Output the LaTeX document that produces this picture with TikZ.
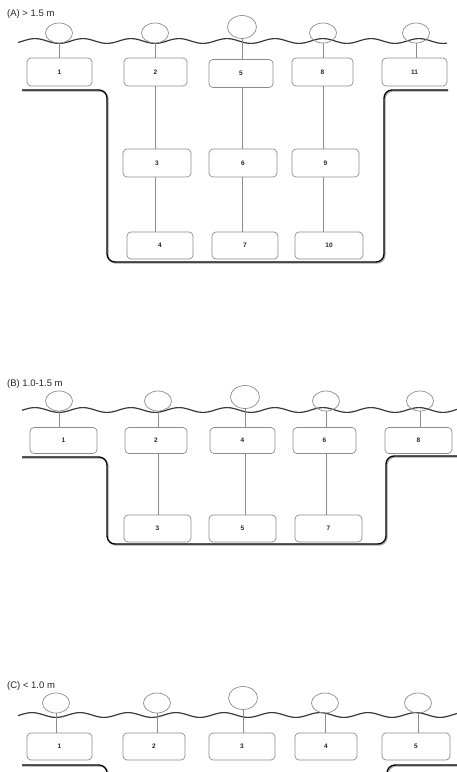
\documentclass[tikz,border=0pt]{standalone}
\usepackage{fontspec}
\setmainfont{Liberation Sans}
\usetikzlibrary{shapes.geometric}
\definecolor{boxgray}{HTML}{8C8C8C}
\definecolor{wavegray}{HTML}{3A3A3A}
\begin{document}
\begin{tikzpicture}[x=1pt,y=-1pt,
 bx/.style={draw=boxgray, line width=0.7pt, rounded corners=4pt, inner sep=0pt, font=\bfseries\fontsize{6.5}{7}\selectfont, text=black!85},
 fl/.style={draw=boxgray, ellipse, line width=0.7pt, minimum width=27pt, minimum height=20pt, inner sep=0pt},
 flbig/.style={fl, minimum width=29pt, minimum height=23pt},
 ln/.style={draw=boxgray, line width=0.7pt},
 wave/.style={draw=wavegray, line width=1.2pt},
 bank/.style={line width=1.3pt, rounded corners=8pt},
 shadow/.style={line width=1.3pt, rounded corners=8pt, draw=black!35},
 lbl/.style={anchor=west, font=\fontsize{9.5}{10}\selectfont, inner sep=0pt, text=black!85}]
\fill[white] (0,0) rectangle (457,772);
\useasboundingbox (0,0) rectangle (457,772);
\begin{scope}
\clip (0,0) rectangle (457,772);

% ================= Panel A =================
\node[lbl] (la) at (7,14) {(A) > 1.5 m};
\draw[wave] plot[domain=18:447, samples=220, smooth] (\x, {41+2.4*sin(7.5*(\x-47))});
\draw[shadow] (22,91) -- (108,91) -- (108,263) -- (385,263) -- (385,91) -- (448,91);
\draw[bank] (22,90) -- (107,90) -- (107,262) -- (384,262) -- (384,90) -- (448,90);

\node[fl] (fa1) at (59,33) {};
\node[fl] (fa2) at (155,33) {};
\node[flbig] (fa5) at (242,27) {};
\node[fl] (fa8) at (323,33) {};
\node[fl] (fa11) at (416,33) {};

\node[bx, minimum width=65pt, minimum height=28pt] (a1) at (59.5,72) {1};
\node[bx, minimum width=63pt, minimum height=28pt] (a2) at (155.5,72) {2};
\node[bx, minimum width=64pt, minimum height=28pt] (a5) at (241,73.5) {5};
\node[bx, minimum width=61pt, minimum height=28pt] (a8) at (322.5,72) {8};
\node[bx, minimum width=65pt, minimum height=28pt] (a11) at (414.5,72) {11};

\node[bx, minimum width=68pt, minimum height=28pt] (a3) at (157,163) {3};
\node[bx, minimum width=68pt, minimum height=28pt] (a6) at (243,163) {6};
\node[bx, minimum width=67pt, minimum height=28pt] (a9) at (325.5,163) {9};

\node[bx, minimum width=66pt, minimum height=27pt] (a4) at (160,245.5) {4};
\node[bx, minimum width=66pt, minimum height=27pt] (a7) at (245,245.5) {7};
\node[bx, minimum width=68pt, minimum height=27pt] (a10) at (329,245.5) {10};

\draw[ln] (fa1.south) -- (fa1.south |- a1.north);
\draw[ln] (fa2.south) -- (fa2.south |- a2.north);
\draw[ln] (fa5.south) -- (fa5.south |- a5.north);
\draw[ln] (fa8.south) -- (fa8.south |- a8.north);
\draw[ln] (fa11.south) -- (fa11.south |- a11.north);
\draw[ln] (fa2.south |- a2.south) -- (fa2.south |- a3.north);
\draw[ln] (fa2.south |- a3.south) -- (fa2.south |- a4.north);
\draw[ln] (fa5.south |- a5.south) -- (fa5.south |- a6.north);
\draw[ln] (fa5.south |- a6.south) -- (fa5.south |- a7.north);
\draw[ln] (fa8.south |- a8.south) -- (fa8.south |- a9.north);
\draw[ln] (fa8.south |- a9.south) -- (fa8.south |- a10.north);

% ================= Panel B =================
\node[lbl] (lb) at (7,384) {(B) 1.0-1.5 m};
\draw[wave] plot[domain=22:457, samples=220, smooth] (\x, {410+2.4*sin(7.5*(\x-47))});
\draw[shadow] (22,458) -- (108,458) -- (108,545) -- (387,545) -- (387,457) -- (457,457);
\draw[bank] (22,457) -- (107,457) -- (107,544) -- (386,544) -- (386,456) -- (457,456);

\node[fl] (fb1) at (59,401) {};
\node[fl] (fb2) at (158,401) {};
\node[flbig] (fb4) at (245,397) {};
\node[fl] (fb6) at (326,401) {};
\node[fl] (fb8) at (420,401) {};

\node[bx, minimum width=67pt, minimum height=26pt] (b1) at (63.5,440.5) {1};
\node[bx, minimum width=62pt, minimum height=26pt] (b2) at (156,440.5) {2};
\node[bx, minimum width=65pt, minimum height=26pt] (b4) at (242.5,440.5) {4};
\node[bx, minimum width=63pt, minimum height=26pt] (b6) at (324.5,440.5) {6};
\node[bx, minimum width=67pt, minimum height=26pt] (b8) at (418.5,440.5) {8};

\node[bx, minimum width=67pt, minimum height=27pt] (b3) at (157.5,528.5) {3};
\node[bx, minimum width=67pt, minimum height=27pt] (b5) at (242.5,528.5) {5};
\node[bx, minimum width=67pt, minimum height=27pt] (b7) at (328.5,528.5) {7};

\draw[ln] (fb1.south) -- (fb1.south |- b1.north);
\draw[ln] (fb2.south) -- (fb2.south |- b2.north);
\draw[ln] (fb4.south) -- (fb4.south |- b4.north);
\draw[ln] (fb6.south) -- (fb6.south |- b6.north);
\draw[ln] (fb8.south) -- (fb8.south |- b8.north);
\draw[ln] (fb2.south |- b2.south) -- (fb2.south |- b3.north);
\draw[ln] (fb4.south |- b4.south) -- (fb4.south |- b5.north);
\draw[ln] (fb6.south |- b6.south) -- (fb6.south |- b7.north);

% ================= Panel C =================
\node[lbl] (lc) at (7,686) {(C) < 1.0 m};
\draw[wave] plot[domain=18:457, samples=220, smooth] (\x, {715+2.4*sin(7.5*(\x-44))});
\draw[shadow] (22,766) -- (108,766) -- (108,790);
\draw[shadow] (457,766) -- (388,766) -- (388,790);
\draw[bank] (22,765) -- (107,765) -- (107,790);
\draw[bank] (457,765) -- (387,765) -- (387,790);

\node[fl] (fc1) at (56,703) {};
\node[fl] (fc2) at (157,703) {};
\node[flbig] (fc3) at (243,698) {};
\node[fl] (fc4) at (325,703) {};
\node[fl] (fc5) at (418,703) {};

\node[bx, minimum width=65pt, minimum height=27pt] (c1) at (59.5,746.5) {1};
\node[bx, minimum width=62pt, minimum height=27pt] (c2) at (154,746.5) {2};
\node[bx, minimum width=66pt, minimum height=27pt] (c3) at (242,746.5) {3};
\node[bx, minimum width=62pt, minimum height=27pt] (c4) at (326,746.5) {4};
\node[bx, minimum width=68pt, minimum height=27pt] (c5) at (416,746.5) {5};

\draw[ln] (fc1.south) -- (fc1.south |- c1.north);
\draw[ln] (fc2.south) -- (fc2.south |- c2.north);
\draw[ln] (fc3.south) -- (fc3.south |- c3.north);
\draw[ln] (fc4.south) -- (fc4.south |- c4.north);
\draw[ln] (fc5.south) -- (fc5.south |- c5.north);
\end{scope}
\end{tikzpicture}
\end{document}
